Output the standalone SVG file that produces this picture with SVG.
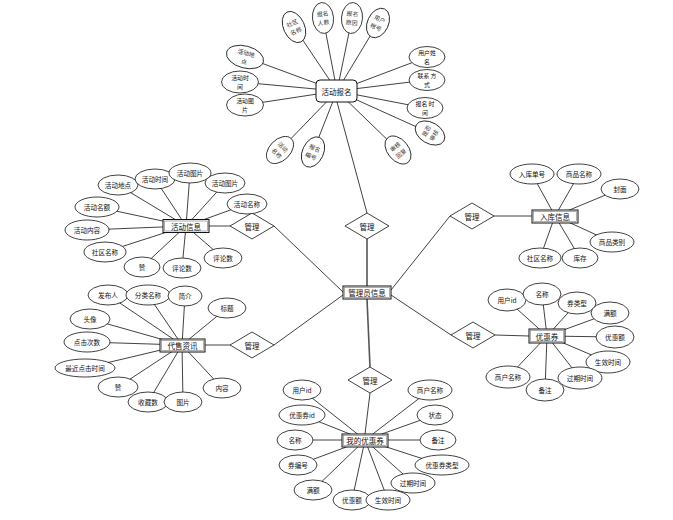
<svg xmlns="http://www.w3.org/2000/svg" width="673" height="520" viewBox="0 0 673 520">
<style>
text{font-family:"Noto Sans CJK SC","Noto Sans",sans-serif;text-anchor:middle;dominant-baseline:central;fill:#111}
.a ellipse{fill:#fff;stroke:#111;stroke-width:0.8}
.a text{font-size:6.6px}
.a text.m{font-size:5.9px}
.t text.m{fill:#333}
.e rect{fill:#fff;stroke:#111;stroke-width:1}
.e rect.in{fill:none;stroke:#777;stroke-width:0.6}
.e text{font-size:7.5px}
.d polygon{fill:#fff;stroke:#111;stroke-width:0.8}
.d text{font-size:7.5px}
#connectors line{stroke:#111;stroke-width:0.8}
#connectors line.k{stroke:#555;stroke-width:1.6}
</style>
<rect width="673" height="520" fill="#fff"/>
<g id="connectors">
<line x1="337" y1="102" x2="367" y2="213"/>
<line class="k" x1="367" y1="239" x2="367" y2="286"/>
<line x1="274" y1="226" x2="343" y2="292"/>
<line x1="230" y1="226" x2="209" y2="226"/>
<line x1="274" y1="345" x2="343" y2="295"/>
<line x1="230" y1="345" x2="205" y2="345"/>
<line x1="450" y1="216" x2="391" y2="290"/>
<line x1="494" y1="216" x2="532" y2="216"/>
<line x1="451" y1="335" x2="391" y2="295"/>
<line x1="495" y1="335" x2="529" y2="336"/>
<line class="k" x1="367" y1="299" x2="370" y2="367"/>
<line x1="370" y1="393" x2="365" y2="434"/>
<line x1="294" y1="27" x2="337" y2="91"/>
<line x1="323" y1="18" x2="337" y2="91"/>
<line x1="352" y1="18" x2="337" y2="91"/>
<line x1="378" y1="23" x2="337" y2="91"/>
<line x1="245" y1="57" x2="337" y2="91"/>
<line x1="240" y1="82" x2="337" y2="91"/>
<line x1="245" y1="105" x2="337" y2="91"/>
<line x1="427" y1="57" x2="337" y2="91"/>
<line x1="427" y1="80" x2="337" y2="91"/>
<line x1="425" y1="108" x2="337" y2="91"/>
<line x1="430" y1="133" x2="337" y2="91"/>
<line x1="280" y1="150" x2="337" y2="91"/>
<line x1="313" y1="152" x2="337" y2="91"/>
<line x1="398" y1="150" x2="337" y2="91"/>
<line x1="118" y1="185" x2="186" y2="226"/>
<line x1="155" y1="179" x2="186" y2="226"/>
<line x1="190" y1="173" x2="186" y2="226"/>
<line x1="225" y1="183" x2="186" y2="226"/>
<line x1="247" y1="204" x2="186" y2="226"/>
<line x1="97" y1="207" x2="186" y2="226"/>
<line x1="87" y1="230" x2="186" y2="226"/>
<line x1="105" y1="252" x2="186" y2="226"/>
<line x1="142" y1="267" x2="186" y2="226"/>
<line x1="182" y1="268" x2="186" y2="226"/>
<line x1="223" y1="258" x2="186" y2="226"/>
<line x1="532" y1="174" x2="555" y2="216"/>
<line x1="579" y1="174" x2="555" y2="216"/>
<line x1="620" y1="189" x2="555" y2="216"/>
<line x1="612" y1="242" x2="555" y2="216"/>
<line x1="540" y1="258" x2="555" y2="216"/>
<line x1="580" y1="258" x2="555" y2="216"/>
<line x1="108" y1="295" x2="182" y2="345"/>
<line x1="148" y1="295" x2="182" y2="345"/>
<line x1="185" y1="296" x2="182" y2="345"/>
<line x1="227" y1="308" x2="182" y2="345"/>
<line x1="90" y1="319" x2="182" y2="345"/>
<line x1="87" y1="342" x2="182" y2="345"/>
<line x1="85" y1="368" x2="182" y2="345"/>
<line x1="118" y1="387" x2="182" y2="345"/>
<line x1="148" y1="402" x2="182" y2="345"/>
<line x1="183" y1="402" x2="182" y2="345"/>
<line x1="222" y1="388" x2="182" y2="345"/>
<line x1="507" y1="300" x2="547" y2="336"/>
<line x1="542" y1="294" x2="547" y2="336"/>
<line x1="577" y1="303" x2="547" y2="336"/>
<line x1="610" y1="313" x2="547" y2="336"/>
<line x1="615" y1="337" x2="547" y2="336"/>
<line x1="608" y1="362" x2="547" y2="336"/>
<line x1="580" y1="378" x2="547" y2="336"/>
<line x1="545" y1="390" x2="547" y2="336"/>
<line x1="508" y1="377" x2="547" y2="336"/>
<line x1="302" y1="390" x2="365" y2="440"/>
<line x1="302" y1="415" x2="365" y2="440"/>
<line x1="295" y1="440" x2="365" y2="440"/>
<line x1="298" y1="465" x2="365" y2="440"/>
<line x1="313" y1="490" x2="365" y2="440"/>
<line x1="352" y1="500" x2="365" y2="440"/>
<line x1="388" y1="500" x2="365" y2="440"/>
<line x1="413" y1="483" x2="365" y2="440"/>
<line x1="442" y1="465" x2="365" y2="440"/>
<line x1="438" y1="440" x2="365" y2="440"/>
<line x1="435" y1="415" x2="365" y2="440"/>
<line x1="430" y1="390" x2="365" y2="440"/>
</g>

<g id="admin" class="e"><rect x="343" y="286" width="48" height="13"/><rect class="in" x="344.5" y="287.5" width="45" height="10"/><text x="367" y="292.5">管理员信息</text></g>
<g id="apply" class="e"><rect x="316" y="80" width="41" height="22" rx="4"/><text x="336.5" y="91">活动报名</text></g>
<g id="activity" class="e"><rect x="163" y="219.5" width="46" height="13"/><rect class="in" x="164.5" y="221" width="43" height="10"/><text x="186" y="226">活动信息</text></g>
<g id="stock" class="e"><rect x="532" y="210" width="46" height="13"/><rect class="in" x="533.5" y="211.5" width="43" height="10"/><text x="555" y="216.5">入库信息</text></g>
<g id="sale" class="e"><rect x="160" y="339" width="45" height="13"/><rect class="in" x="161.5" y="340.5" width="42" height="10"/><text x="182.5" y="345.5">代售资讯</text></g>
<g id="coupon" class="e"><rect x="529" y="329" width="36" height="14"/><rect class="in" x="530.5" y="330.5" width="33" height="11"/><text x="547" y="336">优惠券</text></g>
<g id="mycoupon" class="e"><rect x="342" y="434" width="46" height="13"/><rect class="in" x="343.5" y="435.5" width="43" height="10"/><text x="365" y="440.5">我的优惠券</text></g>

<g id="rel-top" class="d"><polygon points="367,213 389,226 367,239 345,226"/><text x="367" y="226">管理</text></g>
<g id="rel-lt" class="d"><polygon points="252,213 274,226 252,239 230,226"/><text x="252" y="226">管理</text></g>
<g id="rel-lb" class="d"><polygon points="252,332 274,345 252,358 230,345"/><text x="252" y="345">管理</text></g>
<g id="rel-rt" class="d"><polygon points="472,203 494,216 472,229 450,216"/><text x="472" y="216">管理</text></g>
<g id="rel-rb" class="d"><polygon points="473,322 495,335 473,348 451,335"/><text x="473" y="335">管理</text></g>
<g id="rel-bot" class="d"><polygon points="370,367 392,380 370,393 348,380"/><text x="370" y="380">管理</text></g>

<g id="f1" class="a t" transform="translate(294,27) rotate(-25)"><ellipse rx="10.5" ry="16.5"/><text class="m" y="-4.4">社区</text><text class="m" y="4.4">名称</text></g>
<g id="f2" class="a t" transform="translate(323,18) rotate(-6)"><ellipse rx="10.5" ry="15.5"/><text class="m" y="-4.4">报名</text><text class="m" y="4.4">人数</text></g>
<g id="f3" class="a t" transform="translate(352,18) rotate(5)"><ellipse rx="10.5" ry="15.5"/><text class="m" y="-4.4">报名</text><text class="m" y="4.4">原因</text></g>
<g id="f4" class="a t" transform="translate(378,23) rotate(25)"><ellipse rx="10.5" ry="15.5"/><text class="m" y="-4.4">用户</text><text class="m" y="4.4">帐号</text></g>
<g id="f5" class="a" transform="translate(245,57) rotate(15)"><ellipse rx="19" ry="11"/><text class="m" y="-4.4">活动地</text><text class="m" y="4.4">点</text></g>
<g id="f6" class="a" transform="translate(240,82)"><ellipse rx="18.5" ry="11"/><text class="m" y="-4.4">活动时</text><text class="m" y="4.4">间</text></g>
<g id="f7" class="a" transform="translate(245,105)"><ellipse rx="18.5" ry="11"/><text class="m" y="-4.4">活动图</text><text class="m" y="4.4">片</text></g>
<g id="f8" class="a" transform="translate(427,57)"><ellipse rx="18" ry="10.5"/><text class="m" y="-4.4">用户姓</text><text class="m" y="4.4">名</text></g>
<g id="f9" class="a" transform="translate(427,80)"><ellipse rx="18" ry="10.5"/><text class="m" y="-4.4">联系 方</text><text class="m" y="4.4">式</text></g>
<g id="f10" class="a" transform="translate(425,108)"><ellipse rx="18" ry="10.5"/><text class="m" y="-4.4">报名 时</text><text class="m" y="4.4">间</text></g>
<g id="f11" class="a t" transform="translate(430,133) rotate(-60)"><ellipse rx="10.5" ry="16"/><text class="m" y="-4.4">是否</text><text class="m" y="4.4">审核</text></g>
<g id="f12" class="a t" transform="translate(280,150) rotate(45)"><ellipse rx="10.5" ry="16"/><text class="m" y="-4.4">活动</text><text class="m" y="4.4">名称</text></g>
<g id="f13" class="a t" transform="translate(313,152) rotate(25)"><ellipse rx="10.5" ry="16"/><text class="m" y="-4.4">报名</text><text class="m" y="4.4">编号</text></g>
<g id="f14" class="a t" transform="translate(398,150) rotate(-40)"><ellipse rx="10.5" ry="16"/><text class="m" y="-4.4">审核</text><text class="m" y="4.4">回复</text></g>

<g id="a1" class="a"><ellipse cx="118" cy="185" rx="20" ry="10"/><text x="118" y="185">活动地点</text></g>
<g id="a2" class="a"><ellipse cx="155" cy="179" rx="20" ry="10"/><text x="155" y="179">活动时间</text></g>
<g id="a3" class="a"><ellipse cx="190" cy="173" rx="21" ry="10"/><text x="190" y="173">活动图片</text></g>
<g id="a4" class="a"><ellipse cx="225" cy="183" rx="20" ry="10"/><text x="225" y="183">活动图片</text></g>
<g id="a5" class="a"><ellipse cx="247" cy="204" rx="20" ry="10"/><text x="247" y="204">活动名称</text></g>
<g id="a6" class="a"><ellipse cx="97" cy="207" rx="22" ry="10"/><text x="97" y="207">活动名额</text></g>
<g id="a7" class="a"><ellipse cx="87" cy="230" rx="22" ry="10"/><text x="87" y="230">活动内容</text></g>
<g id="a8" class="a"><ellipse cx="105" cy="252" rx="21" ry="10"/><text x="105" y="252">社区名称</text></g>
<g id="a9" class="a"><ellipse cx="142" cy="267" rx="18" ry="10"/><text x="142" y="267">赞</text></g>
<g id="a10" class="a"><ellipse cx="182" cy="268" rx="19" ry="10"/><text x="182" y="268">评论数</text></g>
<g id="a11" class="a"><ellipse cx="223" cy="258" rx="19" ry="10"/><text x="223" y="258">评论数</text></g>

<g id="b1" class="a"><ellipse cx="532" cy="174" rx="22" ry="10"/><text x="532" y="174">入库单号</text></g>
<g id="b2" class="a"><ellipse cx="579" cy="174" rx="22" ry="10"/><text x="579" y="174">商品名称</text></g>
<g id="b3" class="a"><ellipse cx="620" cy="189" rx="19" ry="10"/><text x="620" y="189">封面</text></g>
<g id="b4" class="a"><ellipse cx="612" cy="242" rx="22" ry="10"/><text x="612" y="242">商品类别</text></g>
<g id="b5" class="a"><ellipse cx="540" cy="258" rx="21" ry="10"/><text x="540" y="258">社区名称</text></g>
<g id="b6" class="a"><ellipse cx="580" cy="258" rx="18" ry="10"/><text x="580" y="258">库存</text></g>

<g id="c1" class="a"><ellipse cx="108" cy="295" rx="20" ry="10"/><text x="108" y="295">发布人</text></g>
<g id="c2" class="a"><ellipse cx="148" cy="295" rx="22" ry="10"/><text x="148" y="295">分类名称</text></g>
<g id="c3" class="a"><ellipse cx="185" cy="296" rx="17" ry="10"/><text x="185" y="296">简介</text></g>
<g id="c4" class="a"><ellipse cx="227" cy="308" rx="19" ry="10"/><text x="227" y="308">标题</text></g>
<g id="c5" class="a"><ellipse cx="90" cy="319" rx="20" ry="10"/><text x="90" y="319">头像</text></g>
<g id="c6" class="a"><ellipse cx="87" cy="342" rx="23" ry="10"/><text x="87" y="342">点击次数</text></g>
<g id="c7" class="a"><ellipse cx="85" cy="368" rx="30" ry="9"/><text x="85" y="368">最近点击时间</text></g>
<g id="c8" class="a"><ellipse cx="118" cy="387" rx="20" ry="10"/><text x="118" y="387">赞</text></g>
<g id="c9" class="a"><ellipse cx="148" cy="402" rx="20" ry="10"/><text x="148" y="402">收藏数</text></g>
<g id="c10" class="a"><ellipse cx="183" cy="402" rx="19" ry="10"/><text x="183" y="402">图片</text></g>
<g id="c11" class="a"><ellipse cx="222" cy="388" rx="19" ry="10"/><text x="222" y="388">内容</text></g>

<g id="d1" class="a"><ellipse cx="507" cy="300" rx="19" ry="11"/><text x="507" y="300">用户id</text></g>
<g id="d2" class="a"><ellipse cx="542" cy="294" rx="19" ry="11"/><text x="542" y="294">名称</text></g>
<g id="d3" class="a"><ellipse cx="577" cy="303" rx="19" ry="11"/><text x="577" y="303">券类型</text></g>
<g id="d4" class="a"><ellipse cx="610" cy="313" rx="19" ry="11"/><text x="610" y="313">满额</text></g>
<g id="d5" class="a"><ellipse cx="615" cy="337" rx="19" ry="11"/><text x="615" y="337">优惠额</text></g>
<g id="d6" class="a"><ellipse cx="608" cy="362" rx="22" ry="11"/><text x="608" y="362">生效时间</text></g>
<g id="d7" class="a"><ellipse cx="580" cy="378" rx="22" ry="11"/><text x="580" y="378">过期时间</text></g>
<g id="d8" class="a"><ellipse cx="545" cy="390" rx="19" ry="11"/><text x="545" y="390">备注</text></g>
<g id="d9" class="a"><ellipse cx="508" cy="377" rx="22" ry="11"/><text x="508" y="377">商户名称</text></g>

<g id="e1" class="a"><ellipse cx="302" cy="390" rx="19" ry="10"/><text x="302" y="390">用户id</text></g>
<g id="e2" class="a"><ellipse cx="302" cy="415" rx="23" ry="10"/><text x="302" y="415">优惠券id</text></g>
<g id="e3" class="a"><ellipse cx="295" cy="440" rx="18" ry="10"/><text x="295" y="440">名称</text></g>
<g id="e4" class="a"><ellipse cx="298" cy="465" rx="19" ry="10"/><text x="298" y="465">券编号</text></g>
<g id="e5" class="a"><ellipse cx="313" cy="490" rx="19" ry="10"/><text x="313" y="490">满额</text></g>
<g id="e6" class="a"><ellipse cx="352" cy="500" rx="19" ry="10"/><text x="352" y="500">优惠额</text></g>
<g id="e7" class="a"><ellipse cx="388" cy="500" rx="22" ry="10"/><text x="388" y="500">生效时间</text></g>
<g id="e8" class="a"><ellipse cx="413" cy="483" rx="22" ry="10"/><text x="413" y="483">过期时间</text></g>
<g id="e9" class="a"><ellipse cx="442" cy="465" rx="27" ry="10"/><text x="442" y="465">优惠券类型</text></g>
<g id="e10" class="a"><ellipse cx="438" cy="440" rx="18" ry="10"/><text x="438" y="440">备注</text></g>
<g id="e11" class="a"><ellipse cx="435" cy="415" rx="18" ry="10"/><text x="435" y="415">状态</text></g>
<g id="e12" class="a"><ellipse cx="430" cy="390" rx="22" ry="10"/><text x="430" y="390">商户名称</text></g>
</svg>
